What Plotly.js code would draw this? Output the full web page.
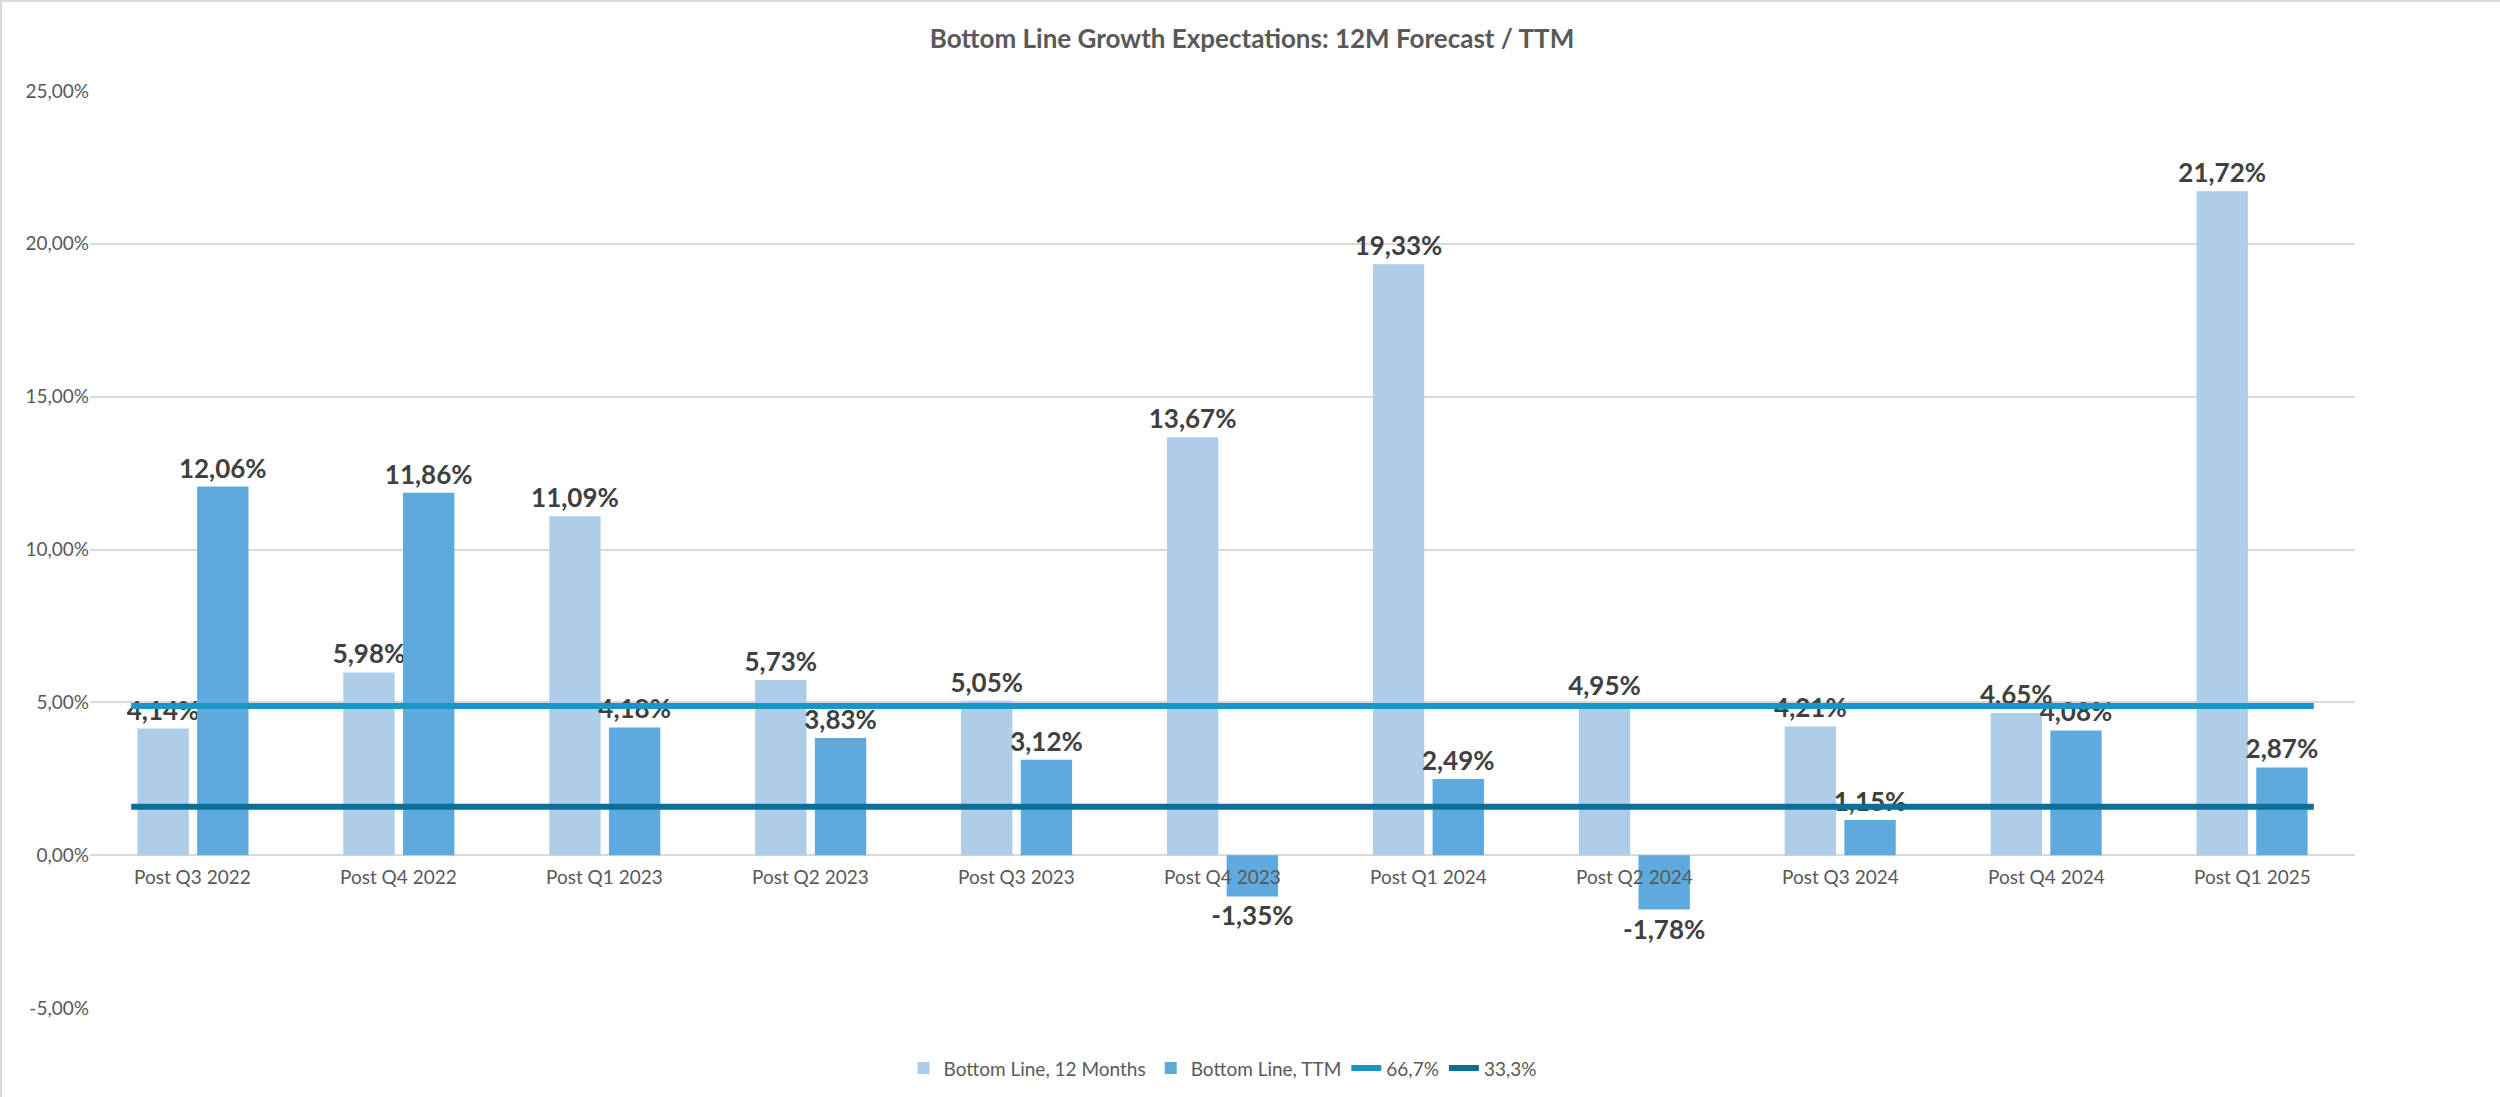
<!DOCTYPE html>
<html>
<head>
<meta charset="utf-8">
<script src="https://cdn.plot.ly/plotly-3.0.1.min.js"></script>
<style>
  html, body { margin: 0; padding: 0; background: #fff; }
  #chart { width: 2500px; height: 1097px; box-sizing: border-box; border: 2px solid #d9d9d9; }
</style>
</head>
<body>
<div id="chart"></div>
<script>
// Quarters on the x axis
const categories = ['Post Q3 2022', 'Post Q4 2022', 'Post Q1 2023', 'Post Q2 2023', 'Post Q3 2023',
  'Post Q4 2023', 'Post Q1 2024', 'Post Q2 2024', 'Post Q3 2024', 'Post Q4 2024', 'Post Q1 2025'];

// Growth values, in percent
const months12 = [4.14, 5.98, 11.09, 5.73, 5.05, 13.67, 19.33, 4.95, 4.21, 4.65, 21.72];
const ttm = [12.06, 11.86, 4.18, 3.83, 3.12, -1.35, 2.49, -1.78, 1.15, 4.08, 2.87];

// Reference levels
const level667 = 4.88;
const level333 = 1.58;

const yTicks = [-5, 0, 5, 10, 15, 20, 25];

const idx = categories.map((c, i) => i);
const fmt = (v) => v.toFixed(2).replace('.', ',') + '%';
const lineX = [-0.3, categories.length - 0.7];

const labelFont = { family: 'Lato, sans-serif', size: 26, color: '#404040', weight: 'bold' };

var traces = [
  {
    x: idx, y: months12, type: 'bar', name: 'Bottom Line, 12 Months',
    marker: { color: '#aecde9' },
    text: months12.map(fmt), textposition: 'outside', textfont: labelFont,
    constraintext: 'none', cliponaxis: false,
  },
  {
    x: idx, y: ttm, type: 'bar', name: 'Bottom Line, TTM',
    marker: { color: '#5eaadf' },
    text: ttm.map(fmt), textposition: 'outside', textfont: labelFont,
    constraintext: 'none', cliponaxis: false,
  },
  {
    x: lineX, y: [level667, level667], mode: 'lines', name: '66,7%',
    line: { color: '#1a95c6', width: 6 },
  },
  {
    x: lineX, y: [level333, level333], mode: 'lines', name: '33,3%',
    line: { color: '#0d6f98', width: 6 },
  },
];

// Category labels sit just under the zero line, like the original
const catLabels = categories.map((c, i) => ({
  x: i, y: 0, xref: 'x', yref: 'y', text: c, showarrow: false,
  yanchor: 'top', yshift: -8, font: { size: 19, color: '#595959' },
}));

var layout = {
  width: 2500,
  height: 1097,
  paper_bgcolor: '#ffffff',
  plot_bgcolor: '#ffffff',
  font: { family: 'Lato, sans-serif', size: 19, color: '#595959' },
  title: {
    text: '<b>Bottom Line Growth Expectations: 12M Forecast / TTM</b>',
    font: { size: 26, color: '#595959' },
    x: 0.5, y: 0.975, yanchor: 'top',
  },
  margin: { l: 88, r: 147, t: 89, b: 82 },
  barmode: 'group',
  bargap: 0.42,
  bargroupgap: 0.14,
  showlegend: true,
  legend: {
    orientation: 'h', x: 0.5, xanchor: 'center', y: -0.045, yanchor: 'top',
    font: { size: 19, color: '#595959' },
  },
  annotations: catLabels,
  xaxis: {
    range: [-0.5, categories.length - 0.5],
    showticklabels: false,
    showgrid: false, zeroline: false, ticks: '',
    fixedrange: true,
  },
  yaxis: {
    range: [-5, 25],
    tickvals: yTicks,
    ticktext: yTicks.map(fmt),
    showgrid: true, gridcolor: '#d9d9d9', gridwidth: 2,
    zeroline: true, zerolinecolor: '#d9d9d9', zerolinewidth: 2,
    ticks: '', ticklen: 0,
    tickfont: { size: 19, color: '#595959' },
  },
};

var config = { responsive: false, displayModeBar: false, staticPlot: true };

Plotly.newPlot('chart', traces, layout, config);
</script>
</body>
</html>
